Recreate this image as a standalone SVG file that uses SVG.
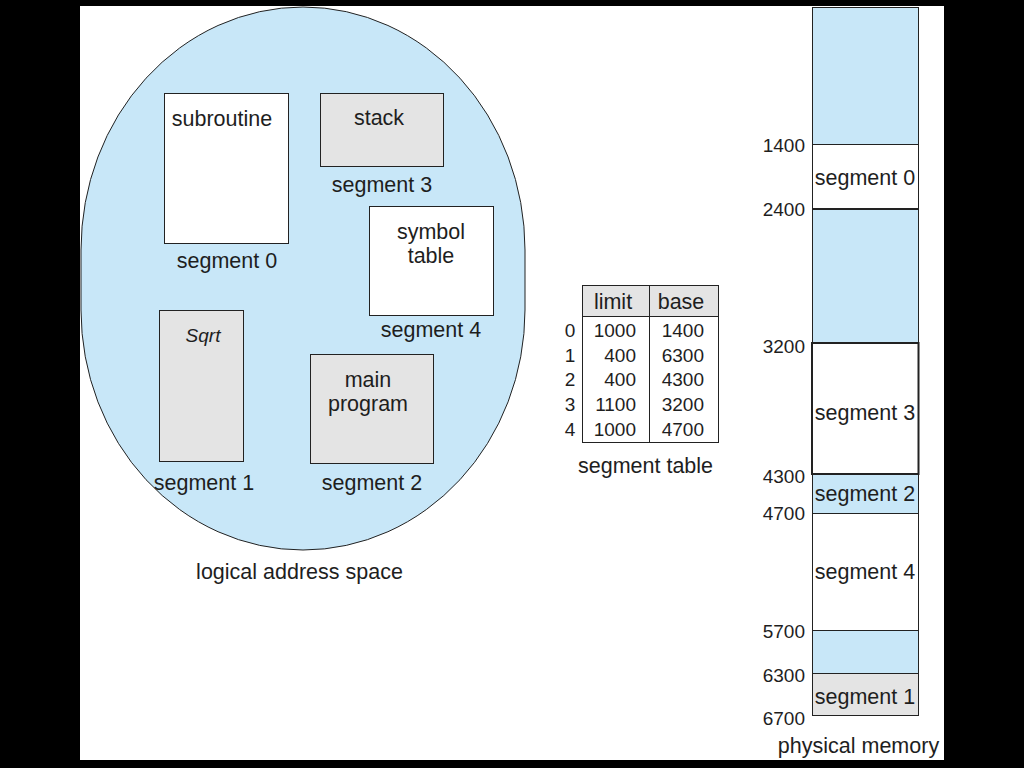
<svg xmlns="http://www.w3.org/2000/svg" width="1024" height="768" viewBox="0 0 1024 768">
<style>
text{font-family:"Liberation Sans",Arial,Helvetica,sans-serif;fill:#1e1e1e}
.t{font-size:21.5px}
.n{font-size:19px}
.c{text-anchor:middle}
.r{text-anchor:end}
.box{stroke:#222;stroke-width:1}
.w{fill:#ffffff}
.g{fill:#e4e4e4}
.b{fill:#c8e7f8}
.ln{stroke:#222;stroke-width:1;fill:none}
</style>
<rect x="0" y="0" width="1024" height="768" fill="#000"/>
<rect x="80" y="6" width="864" height="754" fill="#fff"/>

<g id="logical-address-space">
<path d="M81,250 A222,243 0 0 1 525,250 L525,310 A222,240 0 0 1 81,310 Z" class="b" stroke="#222" stroke-width="1"/>
<text class="t c" x="299.5" y="579">logical address space</text>
</g>

<g id="seg0-subroutine">
<rect class="box w" x="164.5" y="93.5" width="124" height="150"/>
<text class="t c" x="222" y="126">subroutine</text>
<text class="t c" x="227" y="268">segment 0</text>
</g>

<g id="seg3-stack">
<rect class="box g" x="320.5" y="93.5" width="123" height="73"/>
<text class="t c" x="379" y="125">stack</text>
<text class="t c" x="382" y="192">segment 3</text>
</g>

<g id="seg4-symbol-table">
<rect class="box w" x="369.5" y="206.5" width="124" height="109"/>
<text class="t c" x="431" y="239">symbol</text>
<text class="t c" x="431" y="263">table</text>
<text class="t c" x="431" y="337">segment 4</text>
</g>

<g id="seg1-sqrt">
<rect class="box g" x="159.5" y="310.5" width="84" height="151"/>
<text class="t c" x="203" y="342" font-style="italic" style="font-size:19px">Sqrt</text>
<text class="t c" x="204" y="490">segment 1</text>
</g>

<g id="seg2-main-program">
<rect class="box g" x="310.5" y="354.5" width="123" height="109"/>
<text class="t c" x="368" y="387">main</text>
<text class="t c" x="368" y="411">program</text>
<text class="t c" x="372" y="490">segment 2</text>
</g>

<g id="segment-table">
<rect x="582.5" y="285.5" width="136" height="31" class="g"/>
<rect x="582.5" y="285.5" width="136" height="157" class="ln"/>
<line x1="582.5" y1="316.5" x2="718.5" y2="316.5" class="ln"/>
<line x1="649.5" y1="285.5" x2="649.5" y2="442.5" class="ln"/>
<text class="t c" x="613" y="309">limit</text>
<text class="t c" x="681" y="309">base</text>
<text class="n c" x="570" y="337">0</text>
<text class="n c" x="570" y="362">1</text>
<text class="n c" x="570" y="386">2</text>
<text class="n c" x="570" y="411">3</text>
<text class="n c" x="570" y="436">4</text>
<text class="n r" x="636" y="337">1000</text>
<text class="n r" x="636" y="362">400</text>
<text class="n r" x="636" y="386">400</text>
<text class="n r" x="636" y="411">1100</text>
<text class="n r" x="636" y="436">1000</text>
<text class="n r" x="704" y="337">1400</text>
<text class="n r" x="704" y="362">6300</text>
<text class="n r" x="704" y="386">4300</text>
<text class="n r" x="704" y="411">3200</text>
<text class="n r" x="704" y="436">4700</text>
<text class="t c" x="645.5" y="473">segment table</text>
</g>

<g id="physical-memory">
<rect class="b" x="812.5" y="7.5" width="106" height="137"/>
<rect class="w" x="812.5" y="144.5" width="106" height="65"/>
<rect class="b" x="812.5" y="209.5" width="106" height="134"/>
<rect class="w" x="812.5" y="343.5" width="106" height="131"/>
<rect class="b" x="812.5" y="474.5" width="106" height="39"/>
<rect class="w" x="812.5" y="513.5" width="106" height="117"/>
<rect class="b" x="812.5" y="630.5" width="106" height="43"/>
<rect class="g" x="812.5" y="673.5" width="106" height="42"/>
<rect class="ln" x="812.5" y="7.5" width="106" height="708"/>
<line class="ln" x1="812.5" y1="144.5" x2="918.5" y2="144.5"/>
<line class="ln" x1="812.5" y1="209" x2="918.5" y2="209" style="stroke-width:2"/>
<rect class="ln" x="812" y="343" width="106.5" height="131" style="stroke-width:2"/>
<line class="ln" x1="812.5" y1="513.5" x2="918.5" y2="513.5"/>
<line class="ln" x1="812.5" y1="630.5" x2="918.5" y2="630.5"/>
<line class="ln" x1="812.5" y1="673.5" x2="918.5" y2="673.5"/>
<text class="t c" x="865" y="185">segment 0</text>
<text class="t c" x="865" y="420">segment 3</text>
<text class="t c" x="865" y="501">segment 2</text>
<text class="t c" x="865" y="579">segment 4</text>
<text class="t c" x="865" y="704">segment 1</text>
<text class="n r" x="805" y="152">1400</text>
<text class="n r" x="805" y="216">2400</text>
<text class="n r" x="805" y="353">3200</text>
<text class="n r" x="805" y="483">4300</text>
<text class="n r" x="805" y="520">4700</text>
<text class="n r" x="805" y="638">5700</text>
<text class="n r" x="805" y="682">6300</text>
<text class="n r" x="805" y="725">6700</text>
<text class="t c" x="858.5" y="753">physical memory</text>
</g>
</svg>
